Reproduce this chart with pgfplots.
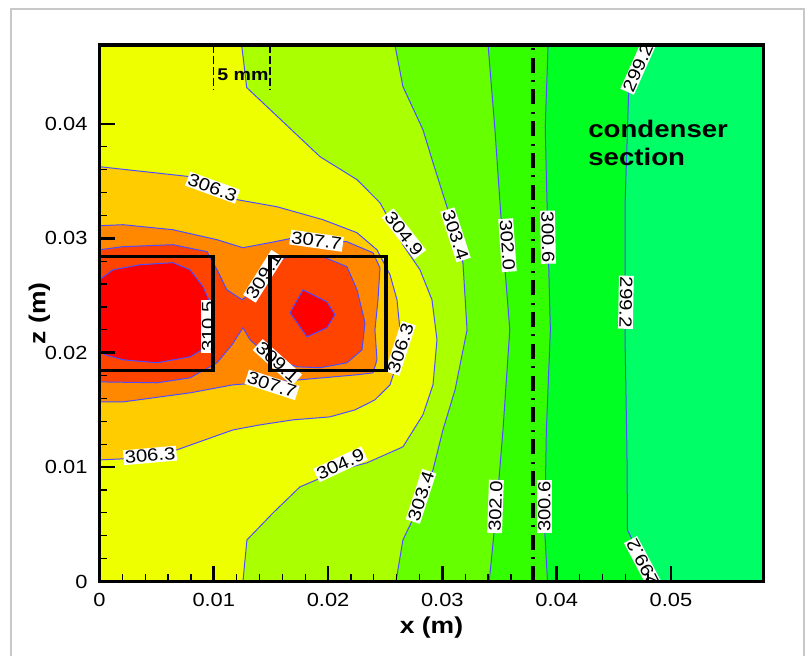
\documentclass[border=0pt]{standalone}
\usepackage{pgfplots}
\pgfplotsset{compat=1.18}
\usepackage{fontspec}
\setmainfont[FakeStretch=1.15]{Liberation Sans}
\definecolor{c0}{HTML}{00FF66}
\definecolor{c1}{HTML}{00FF22}
\definecolor{c2}{HTML}{33FF00}
\definecolor{c3}{HTML}{66FF00}
\definecolor{c4}{HTML}{AAFF00}
\definecolor{c5}{HTML}{EEFF00}
\definecolor{c6}{HTML}{FFCC00}
\definecolor{c7}{HTML}{FF8800}
\definecolor{c8}{HTML}{FF4400}
\definecolor{c9}{HTML}{FF0000}
\definecolor{cline}{RGB}{77,77,255}
\definecolor{framegray}{RGB}{200,200,200}
\tikzset{clab/.style={fill=white, inner sep=0.6pt, font=\fontsize{8.8}{9}\selectfont}}
\pgfplotsset{geom/.style={at={(49.75pt,37.25pt)}, anchor=south west,
  scale only axis, width=332pt, height=268.25pt,
  xmin=0, xmax=0.0581, ymin=0, ymax=0.0469}}
\begin{document}
\begin{tikzpicture}
\useasboundingbox (0pt,0pt) rectangle (404pt,328pt);
\draw[framegray, line width=1pt] (5.5pt,-10pt) -- (5.5pt,323.5pt) -- (402pt,323.5pt) -- (402pt,-10pt);
% ---------- field ----------
\begin{axis}[geom, hide axis]
\addplot[fill=c0, draw=none] coordinates {(0,0) (0.0581,0) (0.0581,0.0469) (0,0.0469)};
% 299.2
\addplot[fill=c1, draw=cline, line width=0.5pt] coordinates {
 (0.0480,0.0469) (0.0463,0.0427) (0.0460,0.0334) (0.0460,0.0203) (0.04615,0.0115) (0.0462,0.0045) (0.0484,0) (0,0) (0,0.0469)};
% 300.6
\addplot[fill=c2, draw=cline, line width=0.5pt] coordinates {
 (0.03925,0.0469) (0.0390,0.0397) (0.03915,0.0334) (0.03945,0.0220) (0.0391,0.0132) (0.03895,0.0045) (0.0392,0) (0,0) (0,0.0469)};
% 302.0
\addplot[fill=c3, draw=cline, line width=0.5pt] coordinates {
 (0.0340,0.0469) (0.0346,0.0395) (0.0352,0.0308) (0.0359,0.0220) (0.0353,0.0132) (0.0348,0.0071) (0.0341,0) (0,0) (0,0.0469)};
% 303.4
\addplot[fill=c4, draw=cline, line width=0.5pt] coordinates {
 (0.02585,0.0469) (0.02655,0.04326) (0.0283,0.0395) (0.02918,0.03661) (0.0304,0.03276) (0.0318,0.02787) (0.03216,0.0220) (0.03111,0.01675) (0.03005,0.01325) (0.02918,0.00976) (0.0276,0.00582) (0.02655,0.00364) (0.02594,0) (0,0) (0,0.0469)};
% 304.9
\addplot[fill=c5, draw=cline, line width=0.5pt] coordinates {
 (0.01244,0.0469) (0.01288,0.04318) (0.01929,0.03714) (0.02253,0.03513) (0.02454,0.03311) (0.02655,0.02944) (0.02804,0.02725) (0.02909,0.02463) (0.02953,0.02113) (0.02918,0.01719) (0.0283,0.01457) (0.02655,0.01177) (0.0234,0.01037) (0.02104,0.00976) (0.01754,0.00827) (0.01518,0.00599) (0.0129,0.00363) (0.01255,0) (0,0) (0,0.0469)};
% 306.3
\addplot[fill=c6, draw=cline, line width=0.5pt] coordinates {
 (0,0.03626) (0.00792,0.03539) (0.01203,0.03338) (0.01553,0.03276) (0.01955,0.03163) (0.02253,0.03049) (0.02428,0.0290) (0.02542,0.02681) (0.02603,0.02463) (0.02629,0.0220) (0.02612,0.01938) (0.02542,0.01719) (0.0241,0.01588) (0.02235,0.0150) (0.02016,0.01439) (0.01693,0.01413) (0.01404,0.01369) (0.01168,0.01325) (0.00678,0.01151) (0.00206,0.01072) (0,0.01063)};
% 307.7
\addplot[fill=c7, draw=cline, line width=0.5pt] coordinates {
 (0,0.0311) (0.00206,0.03119) (0.00643,0.03075) (0.01028,0.02988) (0.01255,0.02918) (0.01492,0.02962) (0.01667,0.02997) (0.02165,0.0297) (0.02393,0.02874) (0.02454,0.02743) (0.02437,0.02463) (0.0241,0.0220) (0.02428,0.01938) (0.02393,0.01824) (0.02253,0.01807) (0.01754,0.01763) (0.01168,0.01719) (0.00792,0.01649) (0.00206,0.0157) (0,0.0157)};
% 309.1
\addplot[fill=c8, draw=cline, line width=0.5pt] coordinates {
 (0,0.0290) (0.00206,0.02927) (0.00643,0.02944) (0.00941,0.02883) (0.01028,0.02725) (0.01115,0.0255) (0.01247,0.02463) (0.0136,0.0255) (0.01492,0.02769) (0.01623,0.0283) (0.01955,0.02839) (0.02165,0.02752) (0.02253,0.0255) (0.02323,0.02262) (0.02297,0.02025) (0.02165,0.01912) (0.01929,0.01868) (0.01728,0.01877) (0.01492,0.01956) (0.01317,0.02113) (0.01255,0.02218) (0.01159,0.02069) (0.01028,0.01912) (0.00792,0.0178) (0.00503,0.01737) (0,0.01745)};
% 310.5
\addplot[fill=c9, draw=cline, line width=0.5pt] coordinates {
 (0,0.02638) (0.00118,0.02725) (0.00354,0.02769) (0.00643,0.02787) (0.00792,0.02725) (0.00906,0.02576) (0.00976,0.02419) (0.00984,0.0220) (0.00941,0.02052) (0.00792,0.01964) (0.00503,0.01912) (0.00206,0.01938) (0.00048,0.01982) (0,0.02025)};
\addplot[fill=c9, draw=cline, line width=0.5pt] coordinates {
 (0.0178,0.0255) (0.0199,0.02445) (0.0206,0.02332) (0.0199,0.02218) (0.01815,0.02139) (0.01667,0.02349) (0.0178,0.0255)};
% contour labels
\node[clab, rotate=-20] at (axis cs:0.00989,0.03443) {306.3};
\node[clab, rotate=-8] at (axis cs:0.01899,0.02979) {307.7};
\node[clab, rotate=-52] at (axis cs:0.02664,0.0304) {304.9};
\node[clab, rotate=-72] at (axis cs:0.03115,0.03031) {303.4};
\node[clab, rotate=-86] at (axis cs:0.0357,0.0294) {302.0};
\node[clab, rotate=-89] at (axis cs:0.03924,0.0301) {300.6};
\node[clab, rotate=66] at (axis cs:0.04711,0.04493) {299.2};
\node[clab, rotate=-91] at (axis cs:0.04606,0.02441) {299.2};
\node[clab, rotate=118] at (axis cs:0.04755,0.00162) {299.2};
\node[clab, rotate=90] at (axis cs:0.00949,0.02231) {310.5};
\node[clab, rotate=58] at (axis cs:0.01435,0.02668) {309.1};
\node[clab, rotate=-42] at (axis cs:0.01557,0.01916) {309.1};
\node[clab, rotate=-18] at (axis cs:0.01509,0.01719) {307.7};
\node[clab, rotate=72] at (axis cs:0.02633,0.02038) {306.3};
\node[clab, rotate=5] at (axis cs:0.00442,0.01102) {306.3};
\node[clab, rotate=25] at (axis cs:0.02108,0.01024) {304.9};
\node[clab, rotate=72] at (axis cs:0.02813,0.00744) {303.4};
\node[clab, rotate=88] at (axis cs:0.03465,0.00656) {302.0};
\node[clab, rotate=90] at (axis cs:0.03893,0.00656) {300.6};
% heater boxes
\addplot[black, line width=1.75pt, line cap=rect] coordinates {(0,0.01844) (0.00993,0.01844) (0.00993,0.02842) (0,0.02842)};
\addplot[black, line width=1.75pt, line cap=rect] coordinates {(0.01492,0.01844) (0.02507,0.01844) (0.02507,0.02842) (0.01492,0.02842) (0.01492,0.01844)};
% condenser boundary
\addplot[black, line width=2pt, dash pattern=on 7.5pt off 3.7pt on 1pt off 3.7pt] coordinates {(0.03795,0) (0.03795,0.0469)};
% 5 mm marker
\addplot[black, line width=0.6pt, dash pattern=on 4pt off 1.5pt] coordinates {(0.00996,0.0469) (0.00996,0.0430)};
\addplot[black, line width=0.6pt, dash pattern=on 4pt off 1.5pt] coordinates {(0.01492,0.0469) (0.01492,0.0430)};
\node[font=\fontsize{8.5}{9}\selectfont\bfseries] at (axis cs:0.01255,0.04431) {5 mm};
\node[anchor=north west, align=left, inner sep=0pt, font=\fontsize{12}{14}\selectfont\bfseries] at (axis cs:0.04274,0.04037) {condenser\\section};
\end{axis}
% ---------- frame, ticks, labels on top ----------
\begin{axis}[geom,
  xtick={0,0.01,0.02,0.03,0.04,0.05},
  ytick={0,0.01,0.02,0.03,0.04},
  minor x tick num=4, minor y tick num=4,
  tick pos=left,
  tick align=inside,
  major tick length=7.5pt, minor tick length=3.5pt,
  every major tick/.append style={draw=black, line width=1.4pt},
  every minor tick/.append style={draw=black, line width=0.6pt},
  axis line style={black, line width=1.6pt},
  scaled ticks=false,
  /pgf/number format/assume math mode=true,
  xticklabel style={/pgf/number format/fixed, /pgf/number format/precision=2, font=\fontsize{9.5}{10}\selectfont, yshift=-2.3pt},
  yticklabel style={/pgf/number format/fixed, /pgf/number format/precision=2, font=\fontsize{9.5}{10}\selectfont, xshift=-2.5pt},
  xlabel={x (m)}, ylabel={z (m)},
  xlabel style={at={(axis description cs:0.5,0)}, anchor=center, yshift=-23pt, font=\fontsize{11.5}{13}\selectfont\bfseries},
  ylabel style={at={(axis description cs:0,0.5)}, anchor=center, yshift=30pt, font=\fontsize{11.5}{13}\selectfont\bfseries},
]
\end{axis}
\end{tikzpicture}
\end{document}
